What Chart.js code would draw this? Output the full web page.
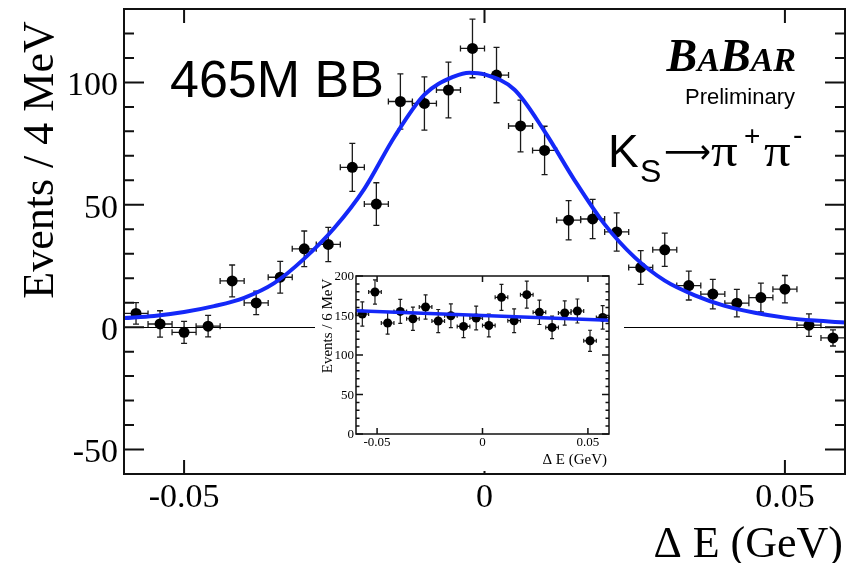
<!DOCTYPE html>
<html>
<head>
<meta charset="utf-8">
<script src="https://cdn.jsdelivr.net/npm/chart.js@4"></script>
<style>
html, body { margin: 0; padding: 0; background: #fff; }
#wrap { position: relative; width: 852px; height: 563px; }
#main { position: absolute; left: 0; top: 0; }
#inset { position: absolute; left: 315px; top: 266px; background: #fff; }
</style>
</head>
<body>
<div id="wrap">
  <canvas id="main" width="852" height="563"></canvas>
  <canvas id="inset" width="309" height="205"></canvas>
</div>
<script>
// main plot, 4 MeV bins
const binCenters = [-0.058, -0.054, -0.050, -0.046, -0.042, -0.038, -0.034, -0.030, -0.026, -0.022,
                    -0.018, -0.014, -0.010, -0.006, -0.002, 0.002, 0.006, 0.010, 0.014, 0.018,
                    0.022, 0.026, 0.030, 0.034, 0.038, 0.042, 0.046, 0.050, 0.054, 0.058];
const events = [5.6, 1.3, -2.1, 0.4, 18.9, 9.9, 20.4, 32.0, 33.8, 65.3,
                50.3, 92.2, 91.4, 96.9, 113.9, 103.0, 82.2, 72.2, 43.7, 44.2,
                38.9, 24.4, 31.6, 17.0, 13.5, 9.8, 12.1, 15.5, 0.8, -4.4];
const eventErr = [4.4, 5.4, 4.5, 4.4, 6.5, 4.8, 6.5, 7.3, 7.0, 9.8,
                  8.7, 11.3, 10.9, 11.4, 12.0, 11.3, 10.6, 9.9, 8.0, 8.0,
                  7.8, 6.9, 6.8, 5.9, 6.0, 5.6, 5.9, 5.6, 4.6, 3.3];
const binHalf = 0.002;

// fitted curve
const fitX = [-0.060, -0.055, -0.050, -0.045, -0.040, -0.035, -0.030, -0.025, -0.020, -0.015,
              -0.010, -0.005, -0.0025, 0.000, 0.005, 0.010, 0.015, 0.020, 0.025, 0.030,
              0.035, 0.040, 0.045, 0.050, 0.055, 0.060];
const fitY = [3.7, 4.6, 6.2, 8.6, 12.0, 18.0, 28.0, 40.5, 56.5, 77.7,
              95.0, 102.5, 104.0, 103.3, 97.0, 80.0, 60.0, 42.0, 28.5, 19.0,
              13.0, 8.7, 5.9, 3.9, 2.7, 1.9];

const xTicks = [-0.05, 0, 0.05];
const yTicks = [-50, 0, 50, 100];

// inset, 6 MeV bins
const insetCenters = [-0.057, -0.051, -0.045, -0.039, -0.033, -0.027, -0.021, -0.015, -0.009, -0.003,
                      0.003, 0.009, 0.015, 0.021, 0.027, 0.033, 0.039, 0.045, 0.051, 0.057];
const insetEvents = [151.9, 179.8, 140.5, 155.2, 145.9, 160.8, 143.0, 149.7, 136.2, 146.8,
                     137.4, 173.0, 143.4, 176.4, 154.0, 134.9, 153.2, 155.7, 118.0, 147.6];
const insetErr = [15.4, 15.4, 14.0, 15.2, 14.8, 15.4, 14.6, 15.0, 14.2, 15.0,
                  14.5, 16.5, 15.0, 17.0, 15.4, 14.2, 15.3, 15.2, 13.3, 14.8];
const insetHalf = 0.003;
const insetFitX = [-0.06, 0.06];
const insetFitY = [156, 144];
const insetYTicks = [0, 50, 100, 150, 200];

const SERIF = '"Liberation Serif", "Times New Roman", serif';
const SANS = '"Liberation Sans", Arial, sans-serif';
const BLUE = '#1428f8';

const errBars = {
  id: 'errBars',
  beforeDatasetsDraw(chart, args, o) {
    const { ctx, scales: { x, y } } = chart;
    ctx.save();
    ctx.strokeStyle = '#1a1a1a';
    ctx.lineWidth = o.lw;
    o.xs.forEach((cx, i) => {
      const px = x.getPixelForValue(cx);
      const py = y.getPixelForValue(o.ys[i]);
      const top = y.getPixelForValue(o.ys[i] + o.err[i]);
      const bot = y.getPixelForValue(o.ys[i] - o.err[i]);
      const l = x.getPixelForValue(cx - o.half);
      const r = x.getPixelForValue(cx + o.half);
      ctx.beginPath();
      ctx.moveTo(px, top); ctx.lineTo(px, bot);
      ctx.moveTo(l, py); ctx.lineTo(r, py);
      ctx.moveTo(px - o.cap, top); ctx.lineTo(px + o.cap, top);
      ctx.moveTo(px - o.cap, bot); ctx.lineTo(px + o.cap, bot);
      ctx.moveTo(l, py - o.cap); ctx.lineTo(l, py + o.cap);
      ctx.moveTo(r, py - o.cap); ctx.lineTo(r, py + o.cap);
      ctx.stroke();
    });
    ctx.restore();
  }
};

// root style frame with inward ticks on all four sides
const frame = {
  id: 'frame',
  beforeDatasetsDraw(chart, args, o) {
    if (!o.zeroLine) return;
    const { ctx, chartArea: a, scales: { y } } = chart;
    const py = Math.round(y.getPixelForValue(0)) + 0.5;
    ctx.save();
    ctx.strokeStyle = '#000';
    ctx.lineWidth = 1.2;
    ctx.beginPath();
    ctx.moveTo(a.left, py); ctx.lineTo(a.right, py);
    ctx.stroke();
    ctx.restore();
  },
  afterDatasetsDraw(chart, args, o) {
    const { ctx, chartArea: a, scales: { x, y } } = chart;
    ctx.save();
    ctx.strokeStyle = '#111';
    ctx.lineWidth = o.lw;
    ctx.strokeRect(a.left, a.top, a.right - a.left, a.bottom - a.top);
    ctx.beginPath();
    for (let v = Math.ceil(y.min / o.yMinor) * o.yMinor; v <= y.max; v += o.yMinor) {
      const len = o.yMajor.includes(v) ? o.majorLen : o.minorLen;
      const py = y.getPixelForValue(v);
      ctx.moveTo(a.left, py); ctx.lineTo(a.left + len, py);
      ctx.moveTo(a.right, py); ctx.lineTo(a.right - len, py);
    }
    o.xMajor.forEach(v => {
      const px = x.getPixelForValue(v);
      ctx.moveTo(px, a.bottom); ctx.lineTo(px, a.bottom - o.xLen);
      ctx.moveTo(px, a.top); ctx.lineTo(px, a.top + o.xLen);
    });
    ctx.stroke();
    ctx.restore();
  }
};

const mainText = {
  id: 'mainText',
  afterDraw(chart) {
    const ctx = chart.ctx;
    ctx.save();
    ctx.fillStyle = '#000';
    ctx.textBaseline = 'alphabetic';

    ctx.save();
    ctx.translate(53, 160);
    ctx.rotate(-Math.PI / 2);
    ctx.font = `44px ${SERIF}`;
    ctx.textAlign = 'center';
    ctx.fillText('Events / 4 MeV', 0, 0);
    ctx.restore();

    ctx.font = `44px ${SERIF}`;
    ctx.textAlign = 'right';
    ctx.fillText('\u0394 E (GeV)', 843, 557);

    ctx.textAlign = 'left';
    ctx.font = `52px ${SANS}`;
    ctx.fillText('465M BB', 170, 97);

    // BaBar logo
    const big = `bold italic 46px ${SERIF}`, small = `bold italic 34px ${SERIF}`;
    const parts = [['B', big], ['A', small], ['B', big], ['AR', small]];
    let total = 0;
    parts.forEach(p => { ctx.font = p[1]; total += ctx.measureText(p[0]).width; });
    let bx = 796 - total;
    parts.forEach(p => { ctx.font = p[1]; ctx.fillText(p[0], bx, 71); bx += ctx.measureText(p[0]).width; });

    ctx.font = `22px ${SANS}`;
    ctx.textAlign = 'right';
    ctx.fillText('Preliminary', 795, 104);

    // K_S -> pi+ pi-
    ctx.textAlign = 'left';
    ctx.font = `46px ${SANS}`;
    ctx.fillText('K', 608, 167);
    ctx.font = `32px ${SANS}`;
    ctx.fillText('S', 640, 182);
    ctx.save();
    ctx.font = `34px "DejaVu Sans", sans-serif`;
    const aw = ctx.measureText('\u27f6').width;
    ctx.translate(664, 163);
    ctx.scale(47 / aw, 1);
    ctx.fillText('\u27f6', 0, 0);
    ctx.restore();
    ctx.font = `46px ${SERIF}`;
    [711, 764].forEach(px => {
      ctx.save();
      ctx.translate(px, 166);
      ctx.scale(1.15, 1);
      ctx.fillText('\u03c0', 0, 0);
      ctx.restore();
    });
    ctx.font = `28px ${SANS}`;
    ctx.fillText('+', 744, 145);
    ctx.fillText('-', 793, 144);
    ctx.restore();
  }
};

const insetText = {
  id: 'insetText',
  afterDraw(chart) {
    const ctx = chart.ctx;
    ctx.save();
    ctx.fillStyle = '#000';
    ctx.font = `15px ${SERIF}`;
    ctx.save();
    ctx.translate(17, 60);
    ctx.rotate(-Math.PI / 2);
    ctx.textAlign = 'center';
    ctx.fillText('Events / 6 MeV', 0, 0);
    ctx.restore();
    ctx.textAlign = 'right';
    ctx.fillText('\u0394 E (GeV)', 292, 198);
    ctx.restore();
  }
};

function tickAxis(list, size, pad, offset, fitKey, fitVal) {
  return {
    afterBuildTicks: a => { a.ticks = list.map(v => ({ value: v })); },
    afterFit: a => {
      a[fitKey] = fitVal;
      // keep label overhang from pushing the frame
      a.paddingTop = 0; a.paddingBottom = 0; a.paddingLeft = 0; a.paddingRight = 0;
    },
    grid: { display: false, drawTicks: false },
    border: { display: false },
    ticks: {
      font: { family: SERIF, size: size },
      color: '#000',
      padding: pad,
      labelOffset: offset,
      maxRotation: 0,
      autoSkip: false,
      callback: v => String(v)
    }
  };
}

new Chart(document.getElementById('main'), {
  type: 'scatter',
  data: {
    datasets: [
      {
        type: 'line',
        data: fitX.map((v, i) => ({ x: v, y: fitY[i] })),
        borderColor: BLUE,
        borderWidth: 4,
        pointRadius: 0,
        cubicInterpolationMode: 'monotone',
        fill: false,
        order: 0
      },
      {
        data: binCenters.map((v, i) => ({ x: v, y: events[i] })),
        pointRadius: 5.5,
        backgroundColor: '#000',
        borderWidth: 0,
        order: 1
      }
    ]
  },
  options: {
    responsive: false,
    animation: false,
    devicePixelRatio: 1,
    layout: { padding: { top: 9, right: 7, left: 0, bottom: 0 } },
    plugins: {
      legend: { display: false },
      tooltip: { enabled: false },
      errBars: { xs: binCenters, ys: events, err: eventErr, half: binHalf, cap: 3, lw: 1.3 },
      frame: { lw: 2, yMinor: 10, yMajor: yTicks, majorLen: 20, minorLen: 10, xMajor: xTicks, xLen: 14, zeroLine: true }
    },
    scales: {
      x: Object.assign({ type: 'linear', min: -0.06, max: 0.06 }, tickAxis(xTicks, 34, 4, 0, 'height', 89)),
      y: Object.assign({ type: 'linear', min: -60, max: 130 }, tickAxis(yTicks, 34, 6, 4, 'width', 124))
    }
  },
  plugins: [errBars, frame, mainText]
});

new Chart(document.getElementById('inset'), {
  type: 'scatter',
  data: {
    datasets: [
      {
        type: 'line',
        data: insetFitX.map((v, i) => ({ x: v, y: insetFitY[i] })),
        borderColor: BLUE,
        borderWidth: 3.5,
        pointRadius: 0,
        fill: false,
        order: 0
      },
      {
        data: insetCenters.map((v, i) => ({ x: v, y: insetEvents[i] })),
        pointRadius: 4.5,
        backgroundColor: '#000',
        borderWidth: 0,
        order: 1
      }
    ]
  },
  options: {
    responsive: false,
    animation: false,
    devicePixelRatio: 1,
    layout: { padding: { top: 10, right: 15, left: 0, bottom: 0 } },
    plugins: {
      legend: { display: false },
      tooltip: { enabled: false },
      errBars: { xs: insetCenters, ys: insetEvents, err: insetErr, half: insetHalf, cap: 2, lw: 1.2 },
      frame: { lw: 1.5, yMinor: 10, yMajor: insetYTicks, majorLen: 7, minorLen: 3.5, xMajor: xTicks, xLen: 6, zeroLine: false }
    },
    scales: {
      x: Object.assign({ type: 'linear', min: -0.06, max: 0.06 }, tickAxis(xTicks, 13, 1, 0, 'height', 37)),
      y: Object.assign({ type: 'linear', min: 0, max: 200 }, tickAxis(insetYTicks, 13, 2, 1, 'width', 41))
    }
  },
  plugins: [errBars, frame, insetText]
});
</script>
</body>
</html>
